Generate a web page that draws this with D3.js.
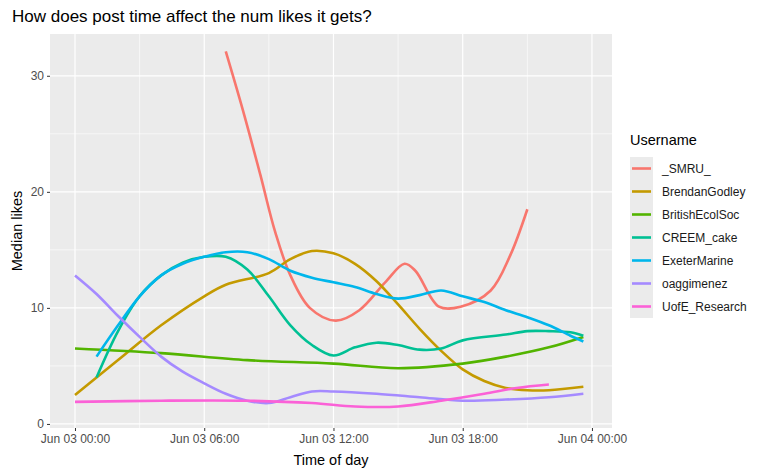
<!DOCTYPE html>
<html><head><meta charset="utf-8">
<script src="https://d3js.org/d3.v7.min.js"></script>
<style>body{margin:0;background:#fff;font-family:"Liberation Sans",Arial,sans-serif}</style>
</head><body><svg id="c" width="770" height="475"></svg>
<script>
// hours after Jun 03 00:00 and median likes
const users = ["_SMRU_", "BrendanGodley", "BritishEcolSoc", "CREEM_cake", "ExeterMarine", "oaggimenez", "UofE_Research"];
const colors = ["#F8766D", "#C49A00", "#53B400", "#00C094", "#00B6EB", "#A58AFF", "#FB61D7"];
const smru = [[7,32.1],[7.8,27],[8.6,21.5],[9.3,16.5],[10,12.8],[10.9,10],[12.1,8.9],[13.2,9.8],[14.4,12.2],[15.3,13.8],[15.8,13.2],[16.9,10.1],[17.9,10.1],[19.3,11.5],[20.2,14.5],[21,18.5]];
const brendan = [[0,2.5],[2,5.5],[4,8.5],[6,11],[7,12],[9,13],[10,14.2],[11,14.9],[12,14.7],[13,13.8],[14,12.3],[15,10.3],[16,8.2],[17,6.3],[18,4.7],[19,3.7],[20,3.1],[21,2.9],[22,2.9],[23.6,3.2]];
const britishEcol = [[0,6.5],[4,6.1],[8,5.5],[12,5.2],[15,4.8],[18,5.2],[20,5.8],[22,6.6],[23.6,7.5]];
const creem = [[1,4],[2,8],[3,11],[4,12.8],[5,13.9],[6,14.4],[7,14.4],[8,13.3],[9,11],[10,8.5],[11,6.8],[12,5.9],[13,6.6],[14,7],[15,6.8],[16,6.4],[17,6.5],[18,7.2],[20,7.7],[21,8],[22,8],[23,7.9],[23.6,7.6]];
const exeter = [[1,5.8],[2,8.5],[3,11],[4,12.8],[5,13.8],[6,14.4],[7,14.8],[8,14.8],[9,14.2],[10,13.2],[11,12.6],[12,12.2],[13,11.8],[14,11.2],[15,10.8],[16,11.1],[17,11.5],[18,11],[19,10.5],[20,9.8],[21,9.2],[22,8.5],[23,7.6],[23.6,7.1]];
const oagg = [[0,12.8],[1,11.2],[2,9.3],[3,7.5],[4,5.8],[5,4.5],[6,3.5],[7,2.6],[8,2],[9,1.8],[10,2.3],[11,2.8],[12,2.8],[14,2.6],[16,2.3],[18,2],[20,2.1],[22,2.3],[23.6,2.6]];
const uofe = [[0,1.9],[4,2],[8,2],[11,1.8],[13,1.5],[15,1.5],[17,2],[19,2.6],[20.5,3.1],[22,3.4]];
const series = [smru, brendan, britishEcol, creem, exeter, oagg, uofe];
const xTicks = [0, 6, 12, 18, 24];
const xTickLabels = ["Jun 03 00:00", "Jun 03 06:00", "Jun 03 12:00", "Jun 03 18:00", "Jun 04 00:00"];
const yTicks = [0, 10, 20, 30];

const svg = d3.select("#c");
const L = 50, R = 612, T = 34, B = 428;
const x = d3.scaleLinear().domain([-1.16, 24.93]).range([L, R]);
const y = d3.scaleLinear().domain([-0.35, 33.6]).range([B, T]);

svg.append("rect").attr("x", L).attr("y", T).attr("width", R - L).attr("height", B - T).attr("fill", "#EBEBEB");
const minorX = d3.range(3, 24, 6), minorY = [5, 15, 25];
minorX.forEach(h => svg.append("line").attr("x1", x(h)).attr("x2", x(h)).attr("y1", T).attr("y2", B).attr("stroke", "#fff").attr("stroke-width", 0.6));
minorY.forEach(v => svg.append("line").attr("x1", L).attr("x2", R).attr("y1", y(v)).attr("y2", y(v)).attr("stroke", "#fff").attr("stroke-width", 0.6));
xTicks.forEach(h => svg.append("line").attr("x1", x(h)).attr("x2", x(h)).attr("y1", T).attr("y2", B).attr("stroke", "#fff").attr("stroke-width", 1.2));
yTicks.forEach(v => svg.append("line").attr("x1", L).attr("x2", R).attr("y1", y(v)).attr("y2", y(v)).attr("stroke", "#fff").attr("stroke-width", 1.2));

const xa = svg.append("g").attr("transform", `translate(0,${B})`)
  .call(d3.axisBottom(x).tickValues(xTicks).tickFormat((d, i) => xTickLabels[i]).tickSize(3));
const ya = svg.append("g").attr("transform", `translate(${L},0)`)
  .call(d3.axisLeft(y).tickValues(yTicks).tickSize(3));
[xa, ya].forEach(a => {
  a.select(".domain").remove();
  a.selectAll("line").attr("stroke", "#333");
  a.selectAll("text").attr("fill", "#4D4D4D").attr("font-size", 12).attr("font-family", "Liberation Sans, Arial");
});

const line = d3.line().x(d => x(d[0])).y(d => y(d[1])).curve(d3.curveCatmullRom);
series.forEach((s, i) => svg.append("path").attr("d", line(s)).attr("fill", "none")
  .attr("stroke", colors[i]).attr("stroke-width", 2.6));

svg.append("text").attr("x", 12).attr("y", 22).attr("font-size", 17).text("How does post time affect the num likes it gets?");
svg.append("text").attr("x", (L + R) / 2).attr("y", 465).attr("text-anchor", "middle").attr("font-size", 14.5).text("Time of day");
svg.append("text").attr("transform", `translate(22,${(T + B) / 2}) rotate(-90)`).attr("text-anchor", "middle").attr("font-size", 14.5).text("Median likes");

svg.append("text").attr("x", 630).attr("y", 145).attr("font-size", 14.5).text("Username");
users.forEach((u, i) => {
  const ky = 157 + i * 23;
  svg.append("rect").attr("x", 630).attr("y", ky).attr("width", 23).attr("height", 23).attr("fill", "#EBEBEB");
  svg.append("line").attr("x1", 632).attr("x2", 651).attr("y1", ky + 11.5).attr("y2", ky + 11.5).attr("stroke", colors[i]).attr("stroke-width", 2.6);
  svg.append("text").attr("x", 662).attr("y", ky + 16).attr("font-size", 12).attr("fill", "#1a1a1a").text(u);
});
</script></body></html>
